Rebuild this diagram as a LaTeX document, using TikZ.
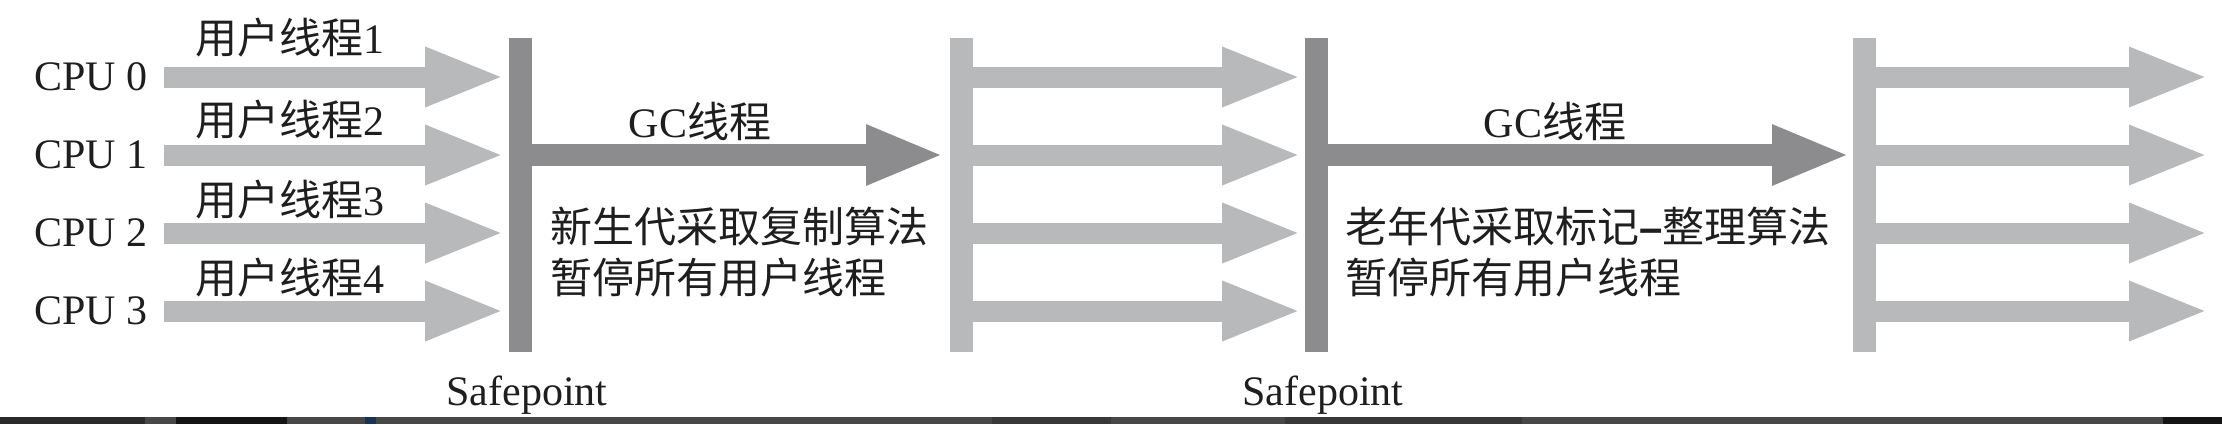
\documentclass[tikz,border=0pt]{standalone}
\usepackage{fontspec}
\setmainfont{Liberation Serif}
\newfontfamily\cjk{Noto Sans CJK SC}
\newfontfamily\dashfont{Liberation Sans}
\usetikzlibrary{arrows.meta}
\definecolor{lightbar}{HTML}{B8B9BB}
\definecolor{darkbar}{HTML}{8C8C8F}
\definecolor{txt}{HTML}{1E1E1E}
\definecolor{stripA}{HTML}{474747}
\definecolor{stripB}{HTML}{2A2A2A}
\definecolor{stripC}{HTML}{151515}
\definecolor{stripD}{HTML}{1B3352}
\definecolor{stripE}{HTML}{383838}
\begin{document}
\begin{tikzpicture}[x=0.5pt,y=-0.5pt,
  bar/.style={draw=none, inner sep=0pt, minimum width=11.5pt, minimum height=157pt},
  thread/.style={line width=10.5pt, draw=lightbar, -{Triangle[length=40pt,width=27pt]}},
  gcarrow/.style={line width=11pt, draw=darkbar, -{Triangle[length=39pt,width=27.5pt]}},
  lbl/.style={font=\fontsize{21}{25}\selectfont, text=txt, inner sep=0pt},
  cpu/.style={lbl, anchor=east, inner xsep=8pt}
]
\useasboundingbox (0,0) rectangle (2222,424);
% bottom strip
\fill[stripA] (0,417) rectangle (2222,424);
\fill[stripB] (0,417) rectangle (145,424);
\fill[stripC] (176,417) rectangle (287,424);
\fill[stripD] (365,417) rectangle (376,424);
\fill[stripE] (992,417) rectangle (1111,424);
\fill[stripE] (1285,417) rectangle (1522,424);
\fill[stripC] (2163,417) rectangle (2222,424);

% bars
\node[bar, fill=darkbar] (sp1) at (520,195) {};
\node[bar, fill=lightbar] (r1) at (961,195) {};
\node[bar, fill=darkbar] (sp2) at (1316,195) {};
\node[bar, fill=lightbar] (r2) at (1864,195) {};
\coordinate (tipend) at (2209,195);

% CPU labels
\node[cpu] (cpu0) at (164,77) {CPU 0};
\node[cpu] (cpu1) at (164,155) {CPU 1};
\node[cpu] (cpu2) at (164,233) {CPU 2};
\node[cpu] (cpu3) at (164,311) {CPU 3};

% thread arrows
\foreach \i in {0,...,3} {
  \draw[thread, shorten >=1.5pt] (cpu\i.east) -- (cpu\i -| sp1.west);
  \draw[thread, shorten >=1pt] (r1.east |- cpu\i) -- (sp2.west |- cpu\i);
  \draw[thread] (r2.east |- cpu\i) -- (tipend |- cpu\i);
}

% GC arrows
\draw[gcarrow, shorten >=2.5pt] (sp1.east |- cpu1) -- (r1.west |- cpu1);
\draw[gcarrow, shorten >=1pt] (sp2.east |- cpu1) -- (r2.west |- cpu1);

% thread labels
\node[lbl, anchor=west] (u1) at (195,38) {{\cjk 用户线程}1};
\node[lbl, anchor=west] (u2) at (195,120) {{\cjk 用户线程}2};
\node[lbl, anchor=west] (u3) at (195,200) {{\cjk 用户线程}3};
\node[lbl, anchor=west] (u4) at (195,278) {{\cjk 用户线程}4};

% GC labels
\node[lbl] (g1) at (700,121) {GC{\cjk 线程}};
\node[lbl] (g2) at (1555,121) {GC{\cjk 线程}};

% descriptions
\node[lbl, anchor=west] (d1a) at (550,226) {\cjk 新生代采取复制算法};
\node[lbl, anchor=west] (d1b) at (550,278) {\cjk 暂停所有用户线程};
\node[lbl, anchor=west] (d2a) at (1345,226) {{\cjk 老年代采取标记}{\dashfont\bfseries –}{\cjk 整理算法}};
\node[lbl, anchor=west] (d2b) at (1345,278) {\cjk 暂停所有用户线程};

% safepoint labels
\node[lbl, anchor=base] (s1) at (527,405) {Safepoint};
\node[lbl, anchor=base] (s2) at (1323,405) {Safepoint};
\end{tikzpicture}
\end{document}
